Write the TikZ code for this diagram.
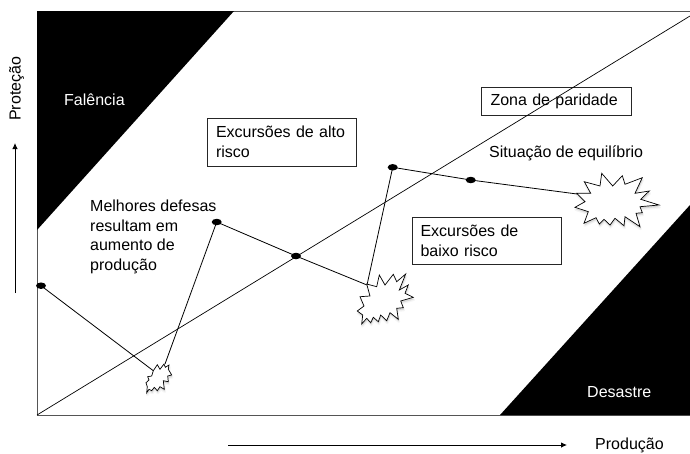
\documentclass[tikz,border=0pt]{standalone}
\usepackage{fontspec}
\setmainfont{Liberation Sans}
\usetikzlibrary{arrows.meta,shapes.geometric}
\definecolor{framegrey}{RGB}{85,85,85}
\tikzset{
  lbl/.style={font=\fontsize{16}{19.6}\selectfont,inner sep=0pt,align=left,anchor=base west},
  boxed/.style={draw=black!85,line width=0.6pt,inner xsep=0pt,inner ysep=0pt,align=left,font=\fontsize{16}{19.6}\selectfont},
  link/.style={line width=0.8pt,black},
  dotn/.style={ellipse,fill=black,minimum width=10pt,minimum height=6.5pt,inner sep=0pt},
  framel/.style={line width=0.9pt,framegrey},
  diagl/.style={line width=0.7pt,black},
  arr/.style={line width=0.8pt,-{Latex[length=6pt,width=5.5pt]}},
}
\newcommand{\starshape}[1]{%
 \fill[black,opacity=.05,shift={(0.6,2.4)},line join=round,draw=black,line width=2.4pt,draw opacity=.04] #1 -- cycle;
 \fill[black,opacity=.08,shift={(0.6,1.8)}] #1 -- cycle;
 \draw[fill=white,line width=0.7pt,line join=miter] #1 -- cycle;}
\begin{document}
\begin{tikzpicture}[x=1pt,y=-1pt]
\useasboundingbox (0,0) rectangle (690,453);
\coordinate (tl) at (37,11);
\coordinate (tr) at (690,11);
\coordinate (o) at (37,415);
\coordinate (br) at (690,415);
\draw[framel] (tr) -- (tl) -- (o) -- (br);
\fill[black] (37,11) -- (234,11) -- (37,230) -- cycle;
\fill[black] (690,205) -- (690,415) -- (500,415) -- cycle;
\node[boxed,minimum width=149pt,minimum height=48pt,text width=131pt] (alto) at (281.5,142) {\raisebox{-1pt}{Excursões de alto}\\[0pt]\raisebox{-1pt}{risco}};
\node[boxed,minimum width=149pt,minimum height=47pt,text width=132pt] (baixo) at (486.5,240.5) {\raisebox{-1pt}{Excursões de}\\[0pt]\raisebox{-1pt}{baixo risco}};
\node[boxed,minimum width=150pt,minimum height=28pt,text width=132pt] (zona) at (556.5,101) {\raisebox{-1pt}{Zona de paridade}};
\coordinate (e) at (690,16);
\draw[diagl] (o) -- (e);
\node[dotn] (d1) at (41,285.7) {};
\node[dotn] (d2) at (216.7,222) {};
\node[dotn] (d3) at (296,256) {};
\node[dotn] (d4) at (392.7,167.3) {};
\node[dotn] (d5) at (470.7,180) {};
\coordinate (s1) at (153.3,370.7);
\coordinate (s1b) at (165,364);
\coordinate (s2) at (367,285);
\coordinate (s3) at (577,194);
\draw[link] (d1.center) -- (s1);
\draw[link] (s1b) -- (d2.center) -- (d3.center) -- (s2) -- (d4.center) -- (d5.center) -- (s3);
\starshape{(153.3,370.7) -- (157.3,364.7) -- (160,369.3) -- (164,364) -- (165.3,367.3) -- (169,365) -- (168.3,369.3) -- (171.7,375) -- (167.7,376) -- (168.3,381.7) -- (163.3,380.7) -- (164.3,389.3) -- (160,386.7) -- (157.3,390.7) -- (154.3,387.3) -- (151.7,390.7) -- (149,389.3) -- (146.7,392.7) -- (147.3,386.7) -- (146,382.7) -- (149,380) -- (147.7,376.7) -- (151.7,376)}
\starshape{(366.7,284) -- (376.7,286.7) -- (379.3,275) -- (385,285) -- (393.3,274.3) -- (396.7,281.7) -- (405.7,274) -- (399.3,290) -- (408.3,285) -- (405,293.3) -- (413.3,297.3) -- (400.7,301) -- (403.3,307.7) -- (396.7,308.3) -- (398.3,319.3) -- (390,312.7) -- (386.7,320.7) -- (380.7,315) -- (378.3,321.7) -- (373.3,317.3) -- (370.7,322.7) -- (366.7,318.3) -- (361.7,324) -- (362.7,315) -- (357.3,311) -- (364,306) -- (360,296.7) -- (370,296)}
\starshape{(576.7,193.3) -- (590.7,193.3) -- (584.3,181.7) -- (600,186) -- (601.7,173.3) -- (612.7,186) -- (622.3,175.7) -- (625,184.3) -- (642.3,177.7) -- (635,193.3) -- (649.3,191) -- (640.7,199.3) -- (659,205) -- (640,206.7) -- (642.3,212.7) -- (636,213.3) -- (640,226.7) -- (625,216.7) -- (624,225.7) -- (615,218.3) -- (610,225) -- (604,219.3) -- (599.3,224) -- (596,217.7) -- (584,223.3) -- (588.3,211.7) -- (575,207.3) -- (585,201.7)}
\node[lbl,text=white] (fal) at (64,105.5) {Falência};
\node[lbl,text=white] (des) at (587,397.5) {Desastre};
\node[lbl,anchor=north west] (mel) at (90,200) {Melhores defesas\\resultam em\\aumento de\\produção};
\node[lbl] (sit) at (489,157.5) {Situação de equilíbrio};
\node[lbl] (pro) at (595,449) {Produção};
\node[lbl,rotate=90] (prt) at (20.5,121) {Proteção};
\coordinate (a1) at (15,293);
\coordinate (a2) at (15,143);
\coordinate (a3) at (228,445);
\coordinate (a4) at (567,445);
\draw[arr] (a1) -- (a2);
\draw[arr] (a3) -- (a4);
\end{tikzpicture}
\end{document}
